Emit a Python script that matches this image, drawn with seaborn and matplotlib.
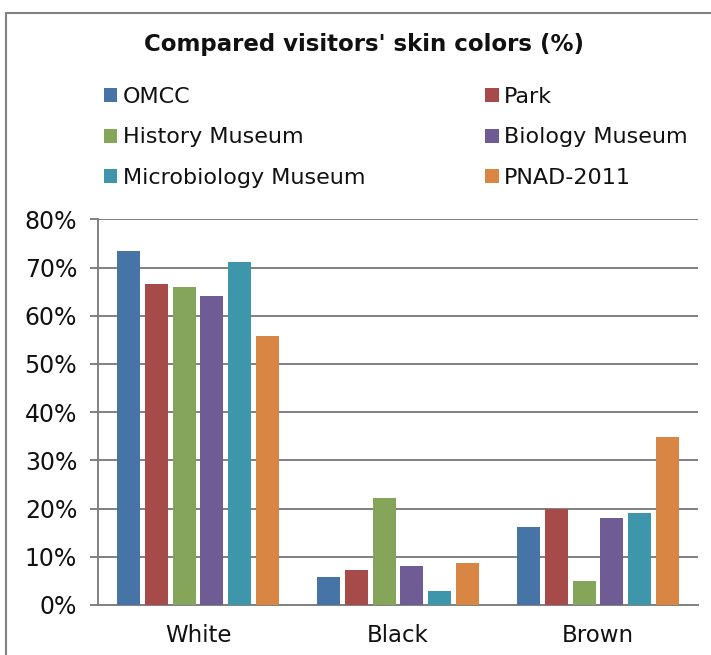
import matplotlib
matplotlib.use("Agg")
import matplotlib.pyplot as plt
from matplotlib.patches import Patch, Rectangle
from matplotlib.ticker import FuncFormatter, MultipleLocator
import pandas as pd
import seaborn as sns

# Skin colour categories on the x axis
categories = ["White", "Black", "Brown"]

# Share of visitors (%) per place, in the order White, Black, Brown
omcc = [73.4, 5.8, 16.2]
park = [66.6, 7.3, 20.0]
history_museum = [66.0, 22.2, 5.0]
biology_museum = [64.1, 8.1, 18.0]
microbiology_museum = [71.2, 2.9, 19.1]
pnad_2011 = [55.8, 8.7, 34.9]

series_names = ["OMCC", "Park", "History Museum", "Biology Museum",
                "Microbiology Museum", "PNAD-2011"]
series_values = [omcc, park, history_museum, biology_museum,
                 microbiology_museum, pnad_2011]
series_colors = ["#4674A6", "#A64A4A", "#84A55A", "#705C94", "#3D96AA", "#D98544"]

rows = []
for name, vals in zip(series_names, series_values):
    for cat, v in zip(categories, vals):
        rows.append({"color": cat, "site": name, "pct": v})
df = pd.DataFrame(rows)

sns.set_theme(style="white")
plt.rcParams["font.family"] = ["DejaVu Sans"]

W, H, DPI = 711, 655, 100
fig = plt.figure(figsize=(W / DPI, H / DPI), dpi=DPI)
fig.patch.set_facecolor("white")

# Plot area in pixel coordinates
left, right, top, bottom = 98, 698, 219.3, 605
ax = fig.add_axes([left / W, 1 - bottom / H, (right - left) / W, (bottom - top) / H])

grid_c = "#808080"
text_c = "#111111"

sns.barplot(data=df, x="color", y="pct", hue="site", order=categories,
            hue_order=series_names, palette=series_colors, saturation=1,
            width=0.83, gap=0.16, legend=False, ax=ax, zorder=3,
            linewidth=0, edgecolor="none")

ax.set_ylim(0, 80)
ax.set_xlim(-0.5, 2.5)
ax.yaxis.set_major_locator(MultipleLocator(10))
ax.yaxis.set_major_formatter(FuncFormatter(lambda v, p: f"{v:.0f}%"))
ax.grid(axis="y", color=grid_c, linewidth=1.4, zorder=0)
ax.grid(axis="x", visible=False)
ax.set_axisbelow(True)
ax.set_xlabel("")
ax.set_ylabel("")

for s in ["top", "right"]:
    ax.spines[s].set_visible(False)
for s in ["left", "bottom"]:
    ax.spines[s].set_color(grid_c)
    ax.spines[s].set_linewidth(1.4)

ax.tick_params(axis="y", which="major", left=True, length=6, width=1.4,
               color=grid_c, pad=9, labelsize=17, labelcolor=text_c)
ax.tick_params(axis="x", bottom=False, pad=8, labelsize=16.5, labelcolor=text_c)

# Title
fig.text(364 / W, 1 - 45 / H, "Compared visitors' skin colors (%)",
         ha="center", va="center", fontsize=16.5, fontweight="bold", color=text_c)

# Legend: two columns, filled column by column
order = [0, 2, 4, 1, 3, 5]
handles = [Patch(facecolor=series_colors[i], edgecolor="none") for i in order]
labels = [series_names[i] for i in order]
fig.legend(handles, labels, ncol=2, loc="upper left",
           bbox_to_anchor=(104 / W, 1 - 87 / H), bbox_transform=fig.transFigure,
           frameon=False, fontsize=16, handlelength=0.6, handleheight=0.6,
           handletextpad=0.25, columnspacing=5.4, labelspacing=0.92,
           borderpad=0, borderaxespad=0, labelcolor=text_c)

# Outer chart border
fig.patches.append(Rectangle((6 / W, -0.1), 1.2, (1 - 13 / H) + 0.1,
                             transform=fig.transFigure, fill=False,
                             edgecolor=grid_c, linewidth=1.5, zorder=0))

fig.savefig("out.png", dpi=DPI)
